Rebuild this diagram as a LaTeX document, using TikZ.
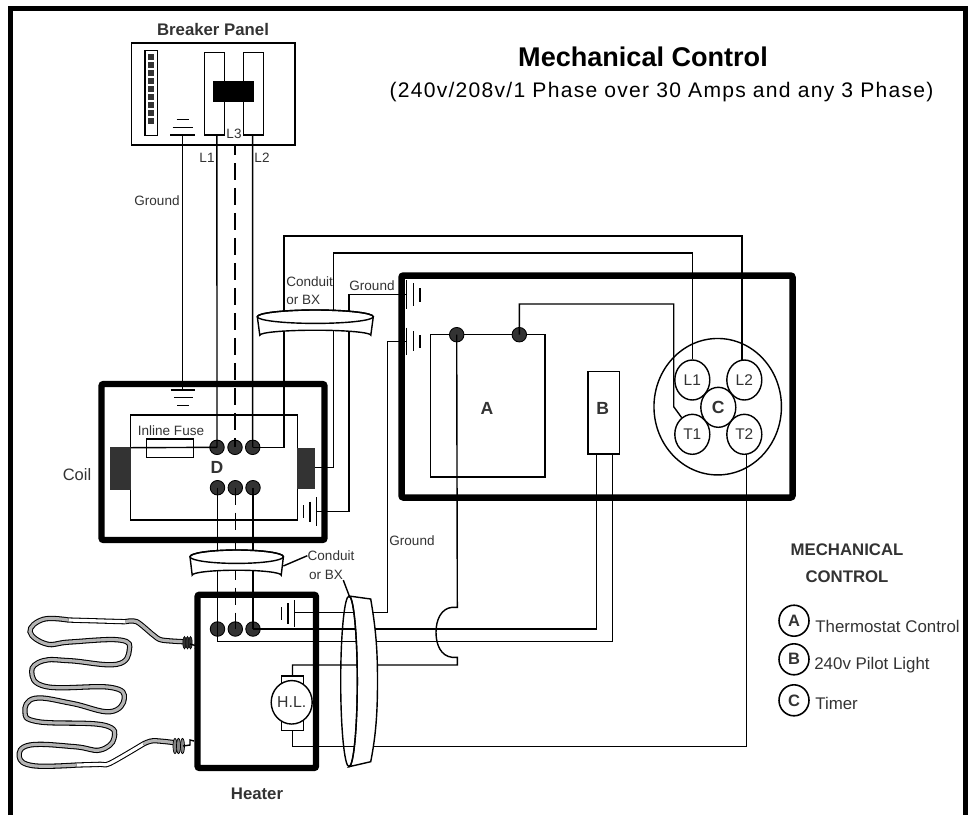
\documentclass[tikz,border=0pt]{standalone}
\usepackage{fontspec}
\setmainfont{Liberation Sans}
\newfontfamily\widefont[LetterSpace=6]{Liberation Sans}
\usetikzlibrary{shapes.geometric}
\definecolor{inkgray}{HTML}{333333}
\definecolor{tubegray}{HTML}{B4B4B4}
\newcommand{\fs}[1]{\fontsize{#1}{#1}\selectfont}
\tikzset{
 wire/.style={black,line width=.8pt},
 thickbox/.style={black,line width=.125cm,rounded corners=.04cm},
 dashwire/.style={wire,dash pattern=on .34cm off .16cm},
 dot/.style={circle,draw=black,line width=.5pt,fill=inkgray,minimum size=.29cm,inner sep=0pt},
 contact/.style={ellipse,draw=black,line width=.8pt,fill=white,minimum width=.7cm,minimum height=.8cm,inner sep=0pt,text=inkgray,font=\fs{8.8}},
 legendring/.style={ellipse,draw=black,line width=.9pt,minimum width=.6cm,minimum height=.62cm,inner sep=0pt,text=inkgray,font=\bfseries\fs{9.4}},
 small/.style={inner sep=0pt,text=inkgray,font=\fs{7.7}},
 legend/.style={inner sep=0pt,anchor=west,text=inkgray,font=\fs{9.6}},
 head/.style={inner sep=0pt,text=inkgray,font=\bfseries\fs{9.55}},
 letter/.style={inner sep=0pt,text=inkgray,font=\bfseries\fs{10}},
 tube/.style={draw=black,line width=.6pt,double=#1,double distance=1.8pt},
 tube/.default=tubegray
}
\begin{document}
\begin{tikzpicture} [x=.02cm,y=-.02cm]
\fill[white] (0,0) rectangle (972,815);
\useasboundingbox (0,0) rectangle (972,815);
\draw[black,line width=.108cm] (10.7,815)--(10.7,8.7)--(965.7,8.7)--(965.7,815);
\node[inner sep=0pt,font=\bfseries\fs{15.4}] (title) at (643,57) {Mechanical Control};
\node[inner sep=0pt,font=\widefont\fs{12}] (subtitle) at (661.5,92.5) {(240v/208v/1 Phase over 30 Amps and any 3 Phase)};
% breaker panel
\node[head] (panel) at (213,30) {Breaker Panel};
\draw[wire] (131.7,43) rectangle (295,145);
\draw[wire] (145,50.7) rectangle (157.7,135.7);
\foreach \i in {0,...,8} \fill[inkgray] (148.3,{54+\i*8}) rectangle (153.7,{59.5+\i*8});
\draw[wire] (204.3,52.3) rectangle (224.7,135);
\draw[wire] (243.3,52.3) rectangle (263.3,135);
\fill[black] (213.3,81) rectangle (254.3,102);
\node[small] (labL1) at (207,158) {L1};
\node[small] (labL3) at (234,134) {L3};
\node[small] (labL2) at (262,158) {L2};
\node[small] (labgnd) at (157,201) {Ground};
% ground symbols
\foreach \y/\a/\b in {135/170.3/195.3,127.3/172.7/192.7,119.3/176.7/189,390/170.7/195.3,397.7/174/192.7,405.3/177.3/188.7}
 \draw[wire] (\a,\y)--(\b,\y);
\foreach \x/\a/\b in {316.7/497.3/525.7,310/501.7/521.7,303.3/505/517.7,406.7/280/309.3,413.3/283/306,420/288/301.7,
 406.7/327.7/355,413.3/331/351,420/335/347.7,294.3/600/626.7,288/603/624,281.7/607.3/620}
 \draw[wire] (\x,\a)--(\x,\b);
\coordinate (pgnd) at (182.7,135);
\coordinate (cgnd) at (182.7,390);
\coordinate (coilgnd) at (316.7,511.7);
\coordinate (boxgndA) at (406.7,294.3);
\coordinate (boxgndB) at (406.7,341.7);
\coordinate (heatgnd) at (294.3,612.7);
% coil box
\draw[thickbox] (101.5,384) rectangle (324.5,540);
\draw[wire] (130.7,415) rectangle (297.3,520);
\draw[wire] (146.7,439) rectangle (193.3,457.7);
\fill[inkgray] (110,447.3) rectangle (130.7,490);
\fill[inkgray] (297.3,447.7) rectangle (315,488.7);
\coordinate (blockL) at (130.7,447.7);
\coordinate (blockR) at (315,467.3);
\node[dot] (dtA) at (217,447.3) {};
\node[dot] (dtB) at (235,447.3) {};
\node[dot] (dtC) at (252.7,447.3) {};
\node[dot] (dbA) at (217.5,487.7) {};
\node[dot] (dbB) at (235.3,487.7) {};
\node[dot] (dbC) at (253,487.7) {};
\node[letter] (labD) at (217,467) {D};
\node[small] (labfuse) at (171,431) {Inline Fuse};
\node[inner sep=0pt,text=inkgray,font=\fs{9.4}] (labcoil) at (77,475) {Coil};
% control box
\draw[black,line width=.13cm,rounded corners=.04cm] (401.5,275.5) rectangle (792.5,497.5);
\draw[wire] (430.3,334.7) rectangle (545,477);
\draw[wire] (588,371.7) rectangle (619.7,454);
\node[letter] (labA) at (487,408) {A};
\node[letter] (labB) at (602.7,408) {B};
\node[dot] (relayA) at (456.7,334.7) {};
\node[dot] (relayB) at (519.3,334.7) {};
\node[contact,minimum width=2.55cm,minimum height=2.73cm] (timer) at (717.7,406.7) {};
\node[contact] (L1) at (692.3,380) {L1};
\node[contact] (L2) at (744.3,380) {L2};
\node[contact] (T1) at (692.3,434.3) {T1};
\node[contact] (T2) at (744.3,434.3) {T2};
\node[contact,font=\bfseries\fs{10}] (C) at (718.3,407.3) {C};
\coordinate (L2top) at (742,360);
\coordinate (T2low) at (746.7,453.7);
\coordinate (pilotA) at (596.3,454);
\coordinate (pilotB) at (612.7,454);
% heater box
\draw[thickbox] (197.5,594.7) rectangle (316,768);
\node[dot] (dhA) at (217.5,629) {};
\node[dot] (dhB) at (235.3,629) {};
\node[dot] (dhC) at (253,629) {};
\node[draw=black,line width=.8pt,minimum width=.43cm,minimum height=1.09cm,inner sep=0pt] (hlbody) at (292.5,703.3) {};
\node[ellipse,draw=black,line width=.8pt,fill=white,minimum width=.76cm,minimum height=.87cm,inner sep=0pt,text=inkgray,font=\fs{9}] (hl) at (291.7,702.3) {H.L.};
\node[head] (labheater) at (257,794) {Heater};
% heating element
\draw[tube] plot[smooth,tension=.5] coordinates {(183.3,641.7) (161.7,640) (153.3,635) (136.7,621.7) (125,621.7)};
\draw[tube=white] (125,621.7)--(68.3,620);
\draw[tube] plot[smooth,tension=.7] coordinates {(68.3,620) (43.3,619.3) (30,631.7) (46.7,644) (70,642) (120,640) (129.3,650) (116.7,664.3) (70,660.7) (43.3,660.7) (31.7,671.7) (46.7,686.7) (110,687.3) (124.3,698.3) (110,711.7) (71.7,703.3) (35,698.3) (25,711.7) (38.3,721.7) (103.3,725) (114,738.3) (100,750) (75,746.7) (30,745) (19.3,756.7) (33.3,765.7) (76.7,765)};
\draw[tube=white] plot[smooth,tension=.5] coordinates {(76.7,765) (100,764.3) (110,763.3) (143.3,744)};
\draw[tube] plot[smooth,tension=.5] coordinates {(143.3,744) (153.3,740.7) (175,742.7)};
\foreach \x in {184.5,187.5,190.5} \filldraw[fill=inkgray,line width=.3pt] (\x,642.7) ellipse [x radius=1.7,y radius=6.3];
\foreach \x in {175,178.5,182.5} \filldraw[fill=inkgray!60,line width=.4pt] (\x,746) ellipse [x radius=2,y radius=7.6];
\draw[wire] (190,644)--(197,646) (195,643)--(198,646)--(195,649);
\draw[wire] (183,746)--(190,745)--(190,740)--(194,741);
% wires
\draw[wire] (pgnd)--(cgnd);
\draw[wire] (216.9,135)--(dtA.center);
\draw[wire] (252.6,135)--(dtC.center);
\draw[dashwire,dash phase=.16cm] (235,146)--(dtB.center);
\draw[wire] (blockL)--(dtA.center);
\draw[wire] (dbA.center)--(dhA.center);
\draw[dashwire] (dbB.center)--(dhB.center);
\draw[wire] (dbC.center)--(dhC.center);
\draw[wire] (dtC.center) -| (284,236) -| (L2top);
\draw[wire] (blockR) -| (333.3,253) -| (L1.north);
\draw[wire] (coilgnd) -| (349,294.3) -- (boxgndA);
\draw[wire] (heatgnd) -| (387.3,341.7) -- (boxgndB);
\draw[wire] (relayB.center) |- (673.7,304) -- (673.7,406.7) -- (681.7,417.7);
\draw[wire] (dhC.center) -| (pilotA);
\draw[wire] (dhA.center) |- (612.7,641.7) -- (pilotB);
\draw[wire] (hlbody.north) |- (457.3,665) -- (457.3,657.3) -- (452,657.3) .. controls (441,656) and (436,645) .. (436,632.3) .. controls (436,620) and (441,608.5) .. (452,607.3) -- (457.3,607.3) -- (relayA.center);
\draw[wire] (hlbody.south) |- (746.7,746.7) -- (T2low);
% conduits
\foreach \cx/\cy/\rx/\rb in {315.3/316.7/58/55.5,236.7/556.7/46.7/44.5} {
 \filldraw[wire,fill=white] (\cx-\rx,\cy) arc[start angle=180,end angle=360,x radius=\rx,y radius=6.7]
  -- (\cx+\rb,\cy+18.5) arc[start angle=360,end angle=180,x radius=\rb,y radius=5] -- cycle;
 \draw[wire] (\cx,\cy) ellipse [x radius=\rx,y radius=6.7];
}
\filldraw[wire,fill=white] (349,596) -- (370.7,599) .. controls (376,630) and (377.5,650) .. (377.5,681) .. controls (377.5,712) and (376,735) .. (370.7,761.7)
 -- (349,766.7) arc[start angle=90,end angle=-90,x radius=8.3,y radius=85.3];
\draw[wire] (349,681.3) ellipse [x radius=8.3,y radius=85.3];
\node[small,anchor=west] (condA) at (286,281.7) {Conduit};
\node[small,anchor=west] (condB) at (286,300) {or BX};
\node[small] (labgndB) at (372,286) {Ground};
\node[small] (condC) at (331,555.7) {Conduit};
\node[small] (condD) at (326,575) {or BX};
\node[small] (labgndC) at (412,541) {Ground};
\coordinate (cuptwo) at (283.3,566);
\coordinate (cupthree) at (349.3,596);
\draw[wire] (cuptwo)--(condC.west);
\draw[wire] (condD.south east)--(cupthree);
% legend
\node[head] (legendA) at (847,550) {MECHANICAL};
\node[head] (legendB) at (847,576.7) {CONTROL};
\node[legendring] (ringA) at (794,620.7) {A};
\node[legendring] (ringB) at (794,659.3) {B};
\node[legendring] (ringC) at (794,700.3) {C};
\node[legend] (textA) at (815,626) {Thermostat Control};
\node[legend] (textB) at (814,665) {240v Pilot Light};
\node[legend] (textC) at (815,703) {Timer};
\end{tikzpicture}
\end{document}
